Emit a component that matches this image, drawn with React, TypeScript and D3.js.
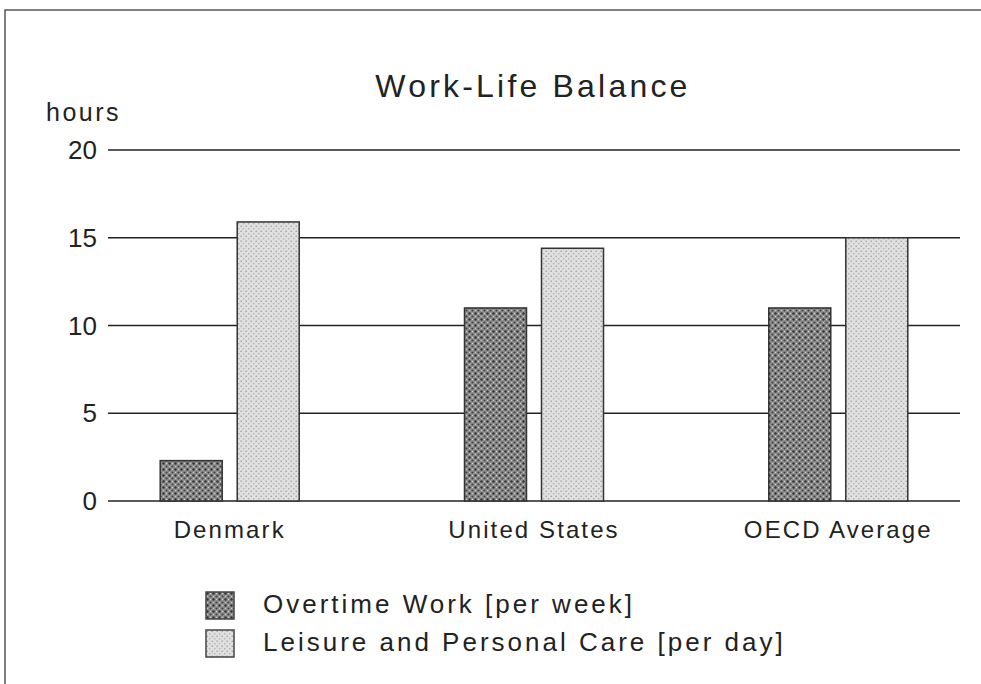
import React from "react";
import * as d3 from "d3";

const categories = ["Denmark", "United States", "OECD Average"];
const seriesNames = ["Overtime Work [per week]", "Leisure and Personal Care [per day]"];
const overtimeValues = [2.3, 11.0, 11.0];
const leisureValues = [15.9, 14.4, 15.0];
const yTicks = [0, 5, 10, 15, 20];
const title = "Work-Life Balance";
const yLabel = "hours";

const W = 981;
const H = 684;
const FONT = "'Liberation Sans', Arial, sans-serif";

export default function App() {
  const x = d3.scalePoint<string>().domain(categories).range([108, 960]).padding(0.4);
  const inner = d3.scaleBand<string>().domain(seriesNames).range([-69.5, 69.5]).paddingInner(0.195);
  const y = d3.scaleLinear().domain([0, 20]).range([501, 150]);
  const series = [overtimeValues, leisureValues];
  const fills = ["url(#patDark)", "url(#patLight)"];

  return (
    <svg
      width={W}
      height={H}
      style={{ position: "absolute", left: 0, top: 0, background: "#fff" }}
      fontFamily={FONT}
    >
      <defs>
        <pattern id="patDark" width="6" height="6" patternUnits="userSpaceOnUse">
          <rect width="6" height="6" fill="#8e8e8e" />
          <circle cx="1.5" cy="1.5" r="1.2" fill="#333" />
          <circle cx="4.5" cy="4.5" r="1.1" fill="#444" />
          <circle cx="4.5" cy="1.5" r="0.7" fill="#d0d0d0" />
          <circle cx="1.5" cy="4.5" r="0.7" fill="#c8c8c8" />
        </pattern>
        <pattern id="patLight" width="5" height="5" patternUnits="userSpaceOnUse">
          <rect width="5" height="5" fill="#e0e0e0" />
          <circle cx="1.2" cy="1.2" r="0.8" fill="#999" />
          <circle cx="3.7" cy="3.7" r="0.8" fill="#aaa" />
        </pattern>
      </defs>

      {/* frame */}
      <rect x={5} y={10} width={1200} height={1000} fill="none" stroke="#555" strokeWidth={1.5} />

      {/* title */}
      <text x={533} y={97} textAnchor="middle" fontSize={32} letterSpacing={3.2} fill="#222">
        {title}
      </text>
      <text x={46} y={121} fontSize={25} letterSpacing={2.5} fill="#222">
        {yLabel}
      </text>

      {/* gridlines & ticks */}
      {yTicks.map((t) => (
        <g key={t}>
          <line x1={108} x2={960} y1={y(t)} y2={y(t)} stroke="#222" strokeWidth={1.5} />
          <text x={97} y={y(t) + 9} textAnchor="end" fontSize={26} fill="#222">
            {t}
          </text>
        </g>
      ))}

      {/* bars */}
      {categories.map((c, i) => (
        <g key={c}>
          {seriesNames.map((s, j) => {
            const v = series[j][i];
            const bx = (x(c) as number) + (inner(s) as number);
            return (
              <rect
                key={s}
                x={bx}
                y={y(v)}
                width={inner.bandwidth()}
                height={y(0) - y(v)}
                fill={fills[j]}
                stroke="#333"
                strokeWidth={1.5}
              />
            );
          })}
          <text x={x(c) as number} y={538} textAnchor="middle" fontSize={24} letterSpacing={2.1} fill="#222">
            {c}
          </text>
        </g>
      ))}

      {/* legend */}
      {seriesNames.map((s, j) => (
        <g key={s} transform={`translate(206, ${592 + j * 38})`}>
          <rect x={0} y={0} width={28} height={27} fill={fills[j]} stroke="#444" strokeWidth={1.5} />
          <text x={57} y={21} fontSize={26} letterSpacing={3} fill="#222">
            {s}
          </text>
        </g>
      ))}
    </svg>
  );
}
